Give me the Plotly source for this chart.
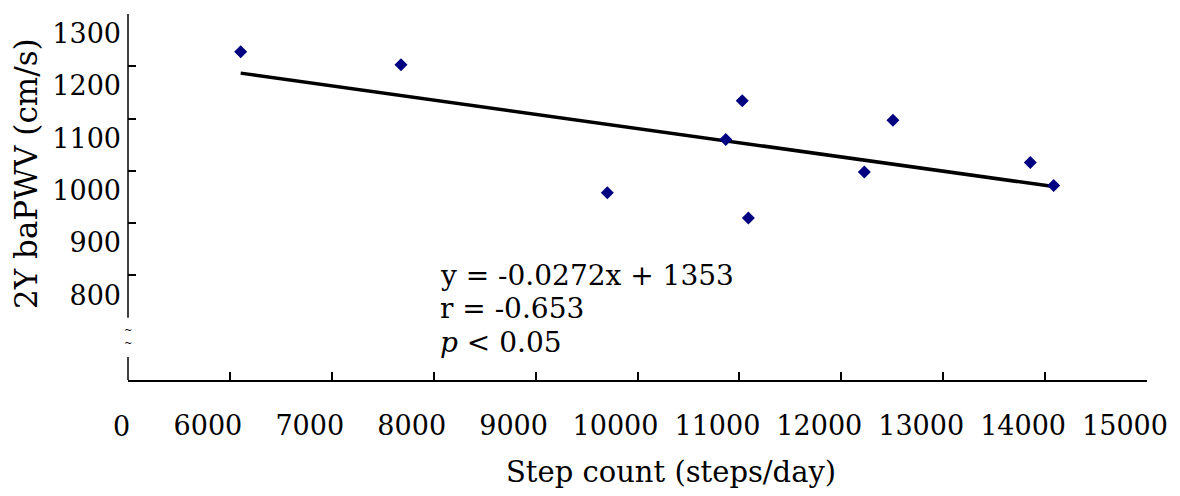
import plotly.graph_objects as go

# Data
steps = [6106, 7679, 9704, 10866, 11028, 11088, 12226, 12507, 13855, 14084]
pwv = [1228, 1203, 958, 1060, 1134, 910, 998, 1097, 1016, 972]

slope = -0.0272
intercept = 1353

x_tick_vals = [6000, 7000, 8000, 9000, 10000, 11000, 12000, 13000, 14000, 15000]
x_tick_text = ["6000", "7000", "8000", "9000", "10000", "11000", "12000", "13000", "14000", "15000"]
y_tick_vals = [800, 900, 1000, 1100, 1200, 1300]
y_tick_text = ["800", "900", "1000", "1100", "1200", "1300"]

stats_lines = ["y = -0.0272x + 1353", "r = -0.653", "<i>p</i> < 0.05"]

FONT = "DejaVu Serif"
TICK_SIZE = 27
TEXT_SIZE = 28

trend_x = [min(steps), max(steps)]
trend_y = [slope * v + intercept for v in trend_x]

fig = go.Figure()
fig.add_trace(go.Scatter(
    x=trend_x, y=trend_y, mode="lines",
    line=dict(color="black", width=3.5),
    showlegend=False, hoverinfo="skip",
))
fig.add_trace(go.Scatter(
    x=steps, y=pwv, mode="markers",
    marker=dict(symbol="diamond", size=10, color="#000080"),
    showlegend=False,
))

fig.update_layout(
    width=1180, height=496,
    margin=dict(l=128, r=33, t=14, b=116, pad=0),
    paper_bgcolor="white", plot_bgcolor="white",
    font=dict(family=FONT, size=TICK_SIZE, color="black"),
    xaxis=dict(
        range=[5000, 15000],
        tickmode="array", tickvals=x_tick_vals, ticktext=x_tick_text,
        ticks="inside", ticklen=8, tickwidth=1.5, tickcolor="black",
        showline=True, linecolor="black", linewidth=1.5,
        showgrid=False, zeroline=False,
        ticklabelshift=-22, ticklabelstandoff=21,
        tickfont=dict(family=FONT, size=TICK_SIZE, color="black"),
    ),
    yaxis=dict(
        range=[600, 1300],
        tickmode="array", tickvals=y_tick_vals, ticktext=y_tick_text,
        ticks="inside", ticklen=8, tickwidth=1.5, tickcolor="black",
        showline=False, showgrid=False, zeroline=False,
        ticklabelposition="outside bottom", ticklabelstandoff=6,
        tickfont=dict(family=FONT, size=TICK_SIZE, color="black"),
    ),
)

# Broken y-axis line
fig.add_shape(type="line", xref="paper", yref="y", x0=0, x1=0, y0=719, y1=1300,
              line=dict(color="black", width=1.5))
fig.add_shape(type="line", xref="paper", yref="y", x0=0, x1=0, y0=600, y1=644,
              line=dict(color="black", width=1.5))
fig.add_annotation(xref="paper", yref="y", x=0, y=684, text="~<br>~", showarrow=False,
                   font=dict(family=FONT, size=10, color="black"),
                   xanchor="center", yanchor="middle")

# "0" at the axis origin
fig.add_annotation(xref="x", yref="paper", x=5000, y=0, text="0", showarrow=False,
                   xanchor="center", yanchor="top", xshift=-7, yshift=-29,
                   font=dict(family=FONT, size=TICK_SIZE, color="black"))

# Axis titles
fig.add_annotation(xref="paper", yref="paper", x=(671 - 128) / 1019, y=0,
                   text="Step count (steps/day)", showarrow=False,
                   xanchor="center", yanchor="middle", yshift=-92,
                   font=dict(family=FONT, size=29, color="black"))
fig.add_annotation(xref="paper", yref="paper", x=(26 - 128) / 1019, y=(380 - 174) / 366,
                   text="2Y baPWV (cm/s)", showarrow=False, textangle=-90,
                   xanchor="center", yanchor="middle",
                   font=dict(family=FONT, size=31, color="black"))

# Regression statistics, one annotation per line
for i, line in enumerate(stats_lines):
    yc = 275 + 33.5 * i
    fig.add_annotation(xref="paper", yref="paper", x=(438 - 128) / 1019, y=(380 - yc) / 366,
                       text=line, showarrow=False, align="left", xanchor="left", yanchor="middle",
                       font=dict(family=FONT, size=TEXT_SIZE, color="black"))

fig.write_html("out.html")
